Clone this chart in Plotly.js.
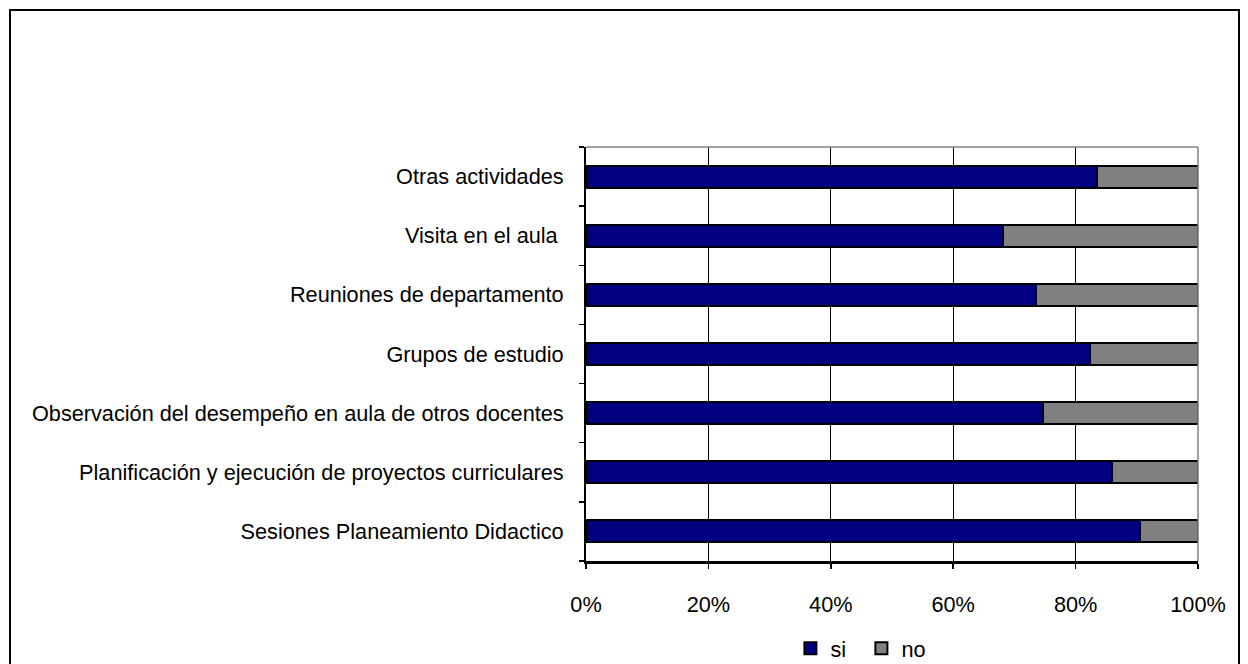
<!DOCTYPE html>
<html>
<head>
<meta charset="utf-8">
<script src="https://cdn.plot.ly/plotly-3.0.1.min.js"></script>
<style>
html,body{margin:0;padding:0;background:#fff;overflow:hidden;}
#wrap{position:relative;width:1248px;height:664px;}
#chart{position:absolute;left:0;top:0;width:1248px;height:664px;}
#frame{position:absolute;left:9px;top:9px;width:1227px;height:680px;border:2px solid #000;pointer-events:none;}
</style>
</head>
<body>
<div id="wrap"><div id="chart"></div><div id="frame"></div></div>
<script>
const categories = [
  "Sesiones Planeamiento Didactico",
  "Planificación y ejecución de proyectos curriculares",
  "Observación del desempeño en aula de otros docentes",
  "Grupos de estudio",
  "Reuniones de departamento",
  "Visita en el aula ",
  "Otras actividades"
];
const siValues = [90.6, 86.0, 74.6, 82.4, 73.6, 68.1, 83.5];
const noValues = [9.4, 14.0, 25.4, 17.6, 26.4, 31.9, 16.5];
const xTickVals = [0, 20, 40, 60, 80, 100];
const xTickText = ["0%", "20%", "40%", "60%", "80%", "100%"];
const seriesNames = ["si", "no"];

const font = {family: "Liberation Sans, Arial, sans-serif", size: 21.7, color: "#000"};

const traces = [
  {type: "bar", orientation: "h", name: seriesNames[0], y: categories, x: siValues,
   marker: {color: "#000080", line: {color: "#000", width: 2}}, hoverinfo: "x+y"},
  {type: "bar", orientation: "h", name: seriesNames[1], y: categories, x: noValues,
   marker: {color: "#808080", line: {color: "#000", width: 2}}, hoverinfo: "x+y"}
];

const layout = {
  width: 1248, height: 664,
  margin: {l: 586, r: 50, t: 147, b: 103, pad: 0, autoexpand: false},
  paper_bgcolor: "#fff", plot_bgcolor: "#fff",
  font: font,
  barmode: "stack",
  bargap: 0.63,
  showlegend: true,
  legend: {orientation: "h", x: 0.45, xanchor: "center", y: -0.212, yanchor: "middle",
           font: font, itemwidth: 30, entrywidth: 26, tracegroupgap: 0, traceorder: "normal", itemclick: false},
  xaxis: {range: [0, 100], tickvals: xTickVals, ticktext: xTickText,
          showgrid: true, gridcolor: "#000", gridwidth: 1,
          showline: true, linecolor: "#000", linewidth: 3,
          ticks: "outside", ticklen: 5, tickcolor: "#000", tickwidth: 1.5,
          ticklabelstandoff: 17, zeroline: false, fixedrange: true, tickfont: font, automargin: false},
  yaxis: {type: "category", categoryorder: "array", categoryarray: categories,
          showgrid: false, showline: true, linecolor: "#000", linewidth: 2,
          ticks: "outside", tickson: "boundaries", ticklen: 5, tickcolor: "#000", tickwidth: 1.5,
          ticklabelstandoff: 16, fixedrange: true, tickfont: font, automargin: false},
  shapes: [
    {type: "line", xref: "paper", yref: "paper", x0: 0, x1: 1, y0: 1, y1: 1,
     line: {color: "#808080", width: 1.5}},
    {type: "line", xref: "paper", yref: "paper", x0: 1, x1: 1, y0: 0, y1: 1,
     line: {color: "#808080", width: 1.5}}
  ]
};

Plotly.newPlot("chart", traces, layout, {displayModeBar: false, staticPlot: true});
</script>
</body>
</html>
